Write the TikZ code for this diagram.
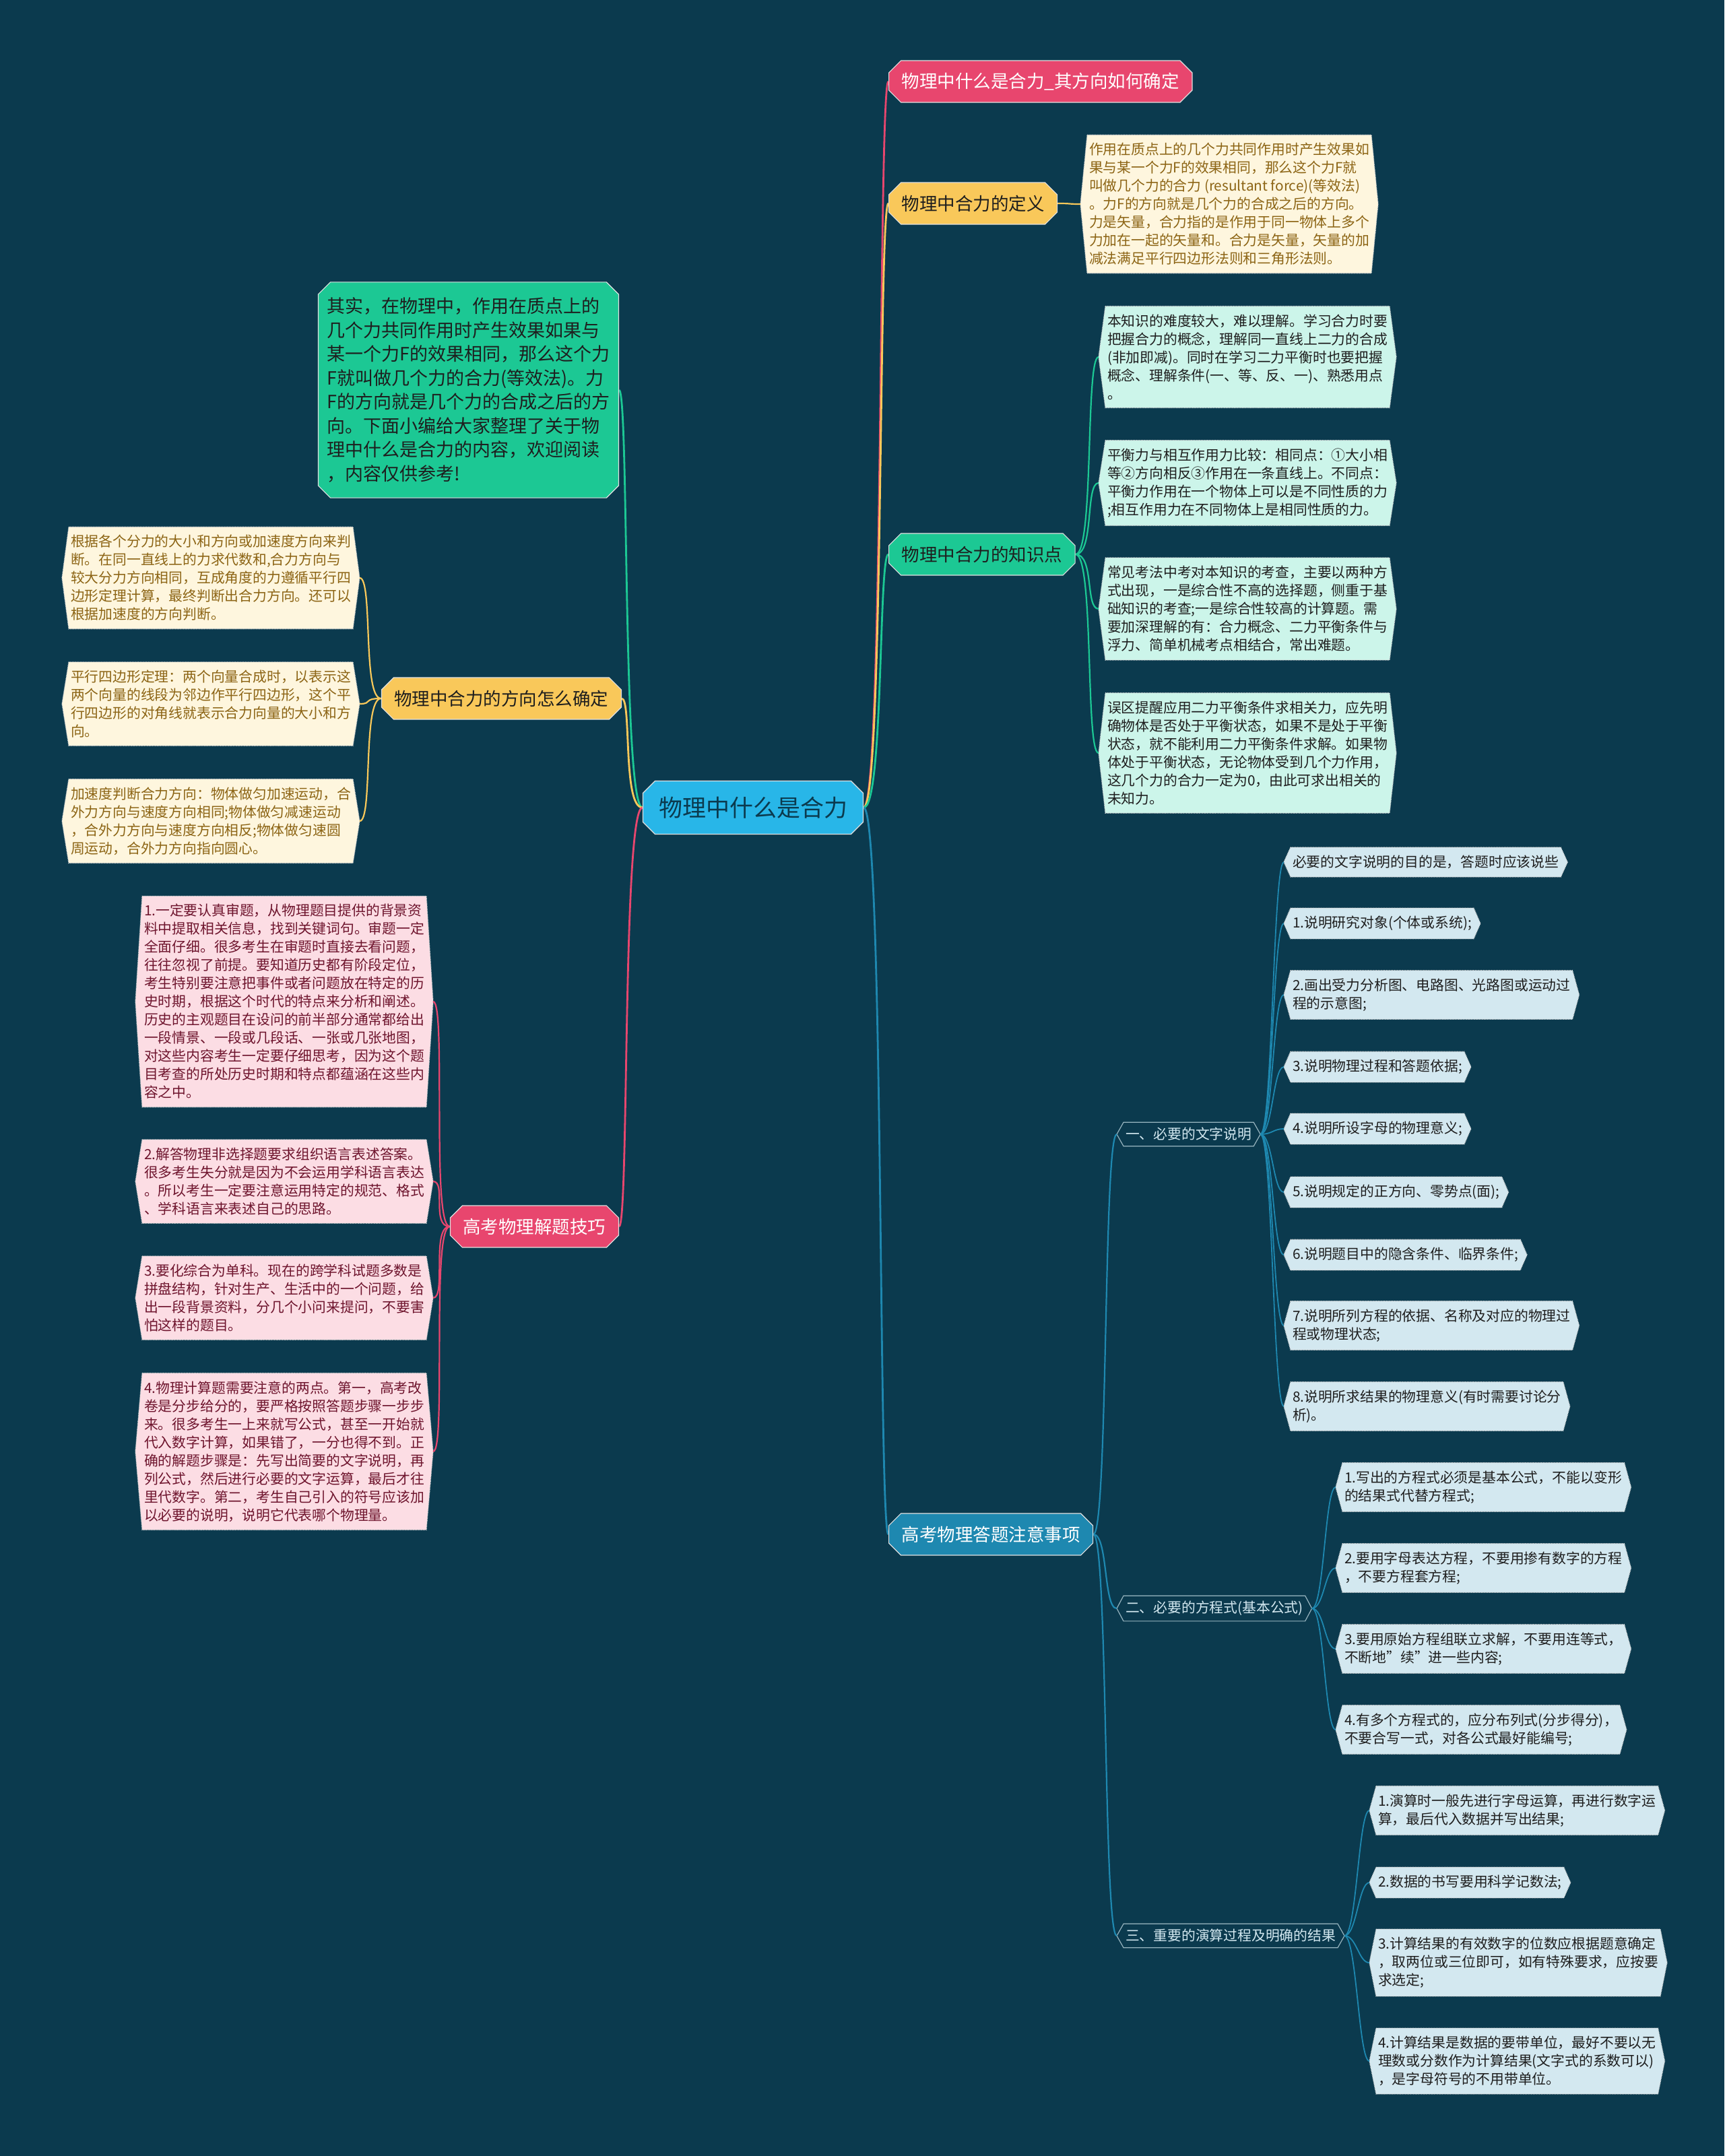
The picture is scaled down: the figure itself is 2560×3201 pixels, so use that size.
\documentclass[tikz,border=0pt]{standalone}
\usepackage{fontspec}
\setmainfont{Noto Sans CJK SC}
\usetikzlibrary{shapes.misc,calc}
\pgfdeclarelayer{bg}
\pgfsetlayers{bg,main}
\definecolor{bgc}{RGB}{11,58,78}
\definecolor{cred}{RGB}{232,70,110}
\definecolor{cyel}{RGB}{249,200,90}
\definecolor{cgrn}{RGB}{28,200,148}
\definecolor{cblu}{RGB}{30,136,176}
\definecolor{ccyan}{RGB}{40,182,232}
\definecolor{lcream}{RGB}{254,246,222}
\definecolor{lmint}{RGB}{204,245,234}
\definecolor{lpink}{RGB}{252,221,228}
\definecolor{lblue}{RGB}{211,232,240}
\definecolor{tbrown}{RGB}{140,100,20}
\definecolor{tpink}{RGB}{110,20,45}
\definecolor{tdark}{RGB}{30,30,30}
\definecolor{dotc}{RGB}{215,215,215}
\tikzset{
  lvone/.style={chamfered rectangle, chamfered rectangle xsep=9pt, chamfered rectangle ysep=9pt,
    draw=white!88!black, line width=1.2pt, inner xsep=10pt, inner ysep=6pt, minimum height=62pt,
    font=\fontsize{26.5}{32}\selectfont},
  leafnode/.style={rectangle, inner xsep=3pt, inner ysep=12pt, outer sep=0pt, align=left,
    font=\fontsize{20.8}{27}\selectfont},
  hex/.style={draw=dotc, line width=1.2pt, dash pattern=on 1.2pt off 1.2pt},
  hexY/.style={hex, fill=lcream}, txtY/.style={text=tbrown},
  hexG/.style={hex, fill=lmint}, txtG/.style={text=tdark},
  hexP/.style={hex, fill=lpink}, txtP/.style={text=tpink},
  hexB/.style={hex, fill=lblue}, txtB/.style={text=tdark},
  hexS/.style={fill=bgc, draw=lblue!70!bgc, line width=1.2pt}, txtS/.style={text=lblue, inner ysep=8pt},
  lnR/.style={draw=cred, line width=2.8pt},
  lnY/.style={draw=cyel, line width=2.8pt},
  lnG/.style={draw=cgrn, line width=2.8pt},
  lnB/.style={draw=cblu, line width=2.8pt},
  thin2/.style={line width=2.2pt},
}
\newcommand\mmleaf[4]{%
  \node[leafnode,txt#3,#2] (#1) {#4};
  \begin{pgfonlayer}{bg}
    \path[hex#3] (#1.north west) -- (#1.north east) -- ($(#1.east)+(10pt,0)$) -- (#1.south east)
      -- (#1.south west) -- ($(#1.west)+(-10pt,0)$) -- cycle;
  \end{pgfonlayer}
  \coordinate (#1-l) at ($(#1.west)+(-10pt,0)$);
  \coordinate (#1-r) at ($(#1.east)+(10pt,0)$);
}
\begin{document}
\begin{tikzpicture}[x=1pt,y=-1pt]
\begin{pgfonlayer}{bg}
\fill[bgc] (0,0) rectangle (2560,3201);
\end{pgfonlayer}
\useasboundingbox (0,0) rectangle (2560,3201);

% central
\node[lvone, fill=ccyan, text=bgc, minimum width=327pt, minimum height=79pt,
  font=\fontsize{35}{40}\selectfont] (c) at (1118,1199) {物理中什么是合力};

% level one
\node[lvone, fill=cred, text=white, anchor=west] (n1) at (1319,121) {物理中什么是合力\_其方向如何确定};
\node[lvone, fill=cyel, text=tdark, anchor=west] (n2) at (1319,302) {物理中合力的定义};
\node[lvone, fill=cgrn, text=tdark, anchor=west] (n3) at (1319,823) {物理中合力的知识点};
\node[lvone, fill=cblu, text=white, anchor=west] (n4) at (1319,2278) {高考物理答题注意事项};
\node[lvone, fill=cyel, text=tdark, anchor=east] (n6) at (923,1037) {物理中合力的方向怎么确定};
\node[lvone, fill=cred, text=white, anchor=east] (n7) at (919,1821) {高考物理解题技巧};
\node[lvone, fill=cgrn, text=tdark, anchor=east, align=left, inner xsep=4pt, inner ysep=14pt,
  font=\fontsize{27}{35.5}\selectfont] (n5) at (919,579)
  {其实，在物理中，作用在质点上的\\几个力共同作用时产生效果如果与\\某一个力F的效果相同，那么这个力\\F就叫做几个力的合力(等效法)。力\\F的方向就是几个力的合成之后的方\\向。下面小编给大家整理了关于物\\理中什么是合力的内容，欢迎阅读\\，内容仅供参考!};

% definition
\mmleaf{def}{anchor=west,at={(1614,303)}}{Y}{作用在质点上的几个力共同作用时产生效果如\\果与某一个力F的效果相同，那么这个力F就\\叫做几个力的合力~(resultant~force)(等效法)\\。力F的方向就是几个力的合成之后的方向。\\力是矢量，合力指的是作用于同一物体上多个\\力加在一起的矢量和。合力是矢量，矢量的加\\减法满足平行四边形法则和三角形法则。}

% knowledge points
\mmleaf{k1}{anchor=west,at={(1641,530)}}{G}{本知识的难度较大，难以理解。学习合力时要\\把握合力的概念，理解同一直线上二力的合成\\(非加即减)。同时在学习二力平衡时也要把握\\概念、理解条件(一、等、反、一)、熟悉用点\\。}
\mmleaf{k2}{anchor=west,at={(1641,717)}}{G}{平衡力与相互作用力比较：相同点：①大小相\\等②方向相反③作用在一条直线上。不同点：\\平衡力作用在一个物体上可以是不同性质的力\\;相互作用力在不同物体上是相同性质的力。}
\mmleaf{k3}{anchor=west,at={(1641,904)}}{G}{常见考法中考对本知识的考查，主要以两种方\\式出现，一是综合性不高的选择题，侧重于基\\础知识的考查;一是综合性较高的计算题。需\\要加深理解的有：合力概念、二力平衡条件与\\浮力、简单机械考点相结合，常出难题。}
\mmleaf{k4}{anchor=west,at={(1641,1118)}}{G}{误区提醒应用二力平衡条件求相关力，应先明\\确物体是否处于平衡状态，如果不是处于平衡\\状态，就不能利用二力平衡条件求解。如果物\\体处于平衡状态，无论物体受到几个力作用，\\这几个力的合力一定为0，由此可求出相关的\\未知力。}

% direction leaves
\mmleaf{d1}{anchor=west,at={(102,858)}}{Y}{根据各个分力的大小和方向或加速度方向来判\\断。在同一直线上的力求代数和,合力方向与\\较大分力方向相同，互成角度的力遵循平行四\\边形定理计算，最终判断出合力方向。还可以\\根据加速度的方向判断。}
\mmleaf{d2}{anchor=west,at={(102,1045)}}{Y}{平行四边形定理：两个向量合成时，以表示这\\两个向量的线段为邻边作平行四边形，这个平\\行四边形的对角线就表示合力向量的大小和方\\向。}
\mmleaf{d3}{anchor=west,at={(102,1219)}}{Y}{加速度判断合力方向：物体做匀加速运动，合\\外力方向与速度方向相同;物体做匀减速运动\\，合外力方向与速度方向相反;物体做匀速圆\\周运动，合外力方向指向圆心。}

% skills leaves
\mmleaf{e1}{anchor=west,at={(211,1487)}}{P}{1.一定要认真审题，从物理题目提供的背景资\\料中提取相关信息，找到关键词句。审题一定\\全面仔细。很多考生在审题时直接去看问题，\\往往忽视了前提。要知道历史都有阶段定位，\\考生特别要注意把事件或者问题放在特定的历\\史时期，根据这个时代的特点来分析和阐述。\\历史的主观题目在设问的前半部分通常都给出\\一段情景、一段或几段话、一张或几张地图，\\对这些内容考生一定要仔细思考，因为这个题\\目考查的所处历史时期和特点都蕴涵在这些内\\容之中。}
\mmleaf{e2}{anchor=west,at={(211,1754)}}{P}{2.解答物理非选择题要求组织语言表述答案。\\很多考生失分就是因为不会运用学科语言表达\\。所以考生一定要注意运用特定的规范、格式\\、学科语言来表述自己的思路。}
\mmleaf{e3}{anchor=west,at={(211,1927)}}{P}{3.要化综合为单科。现在的跨学科试题多数是\\拼盘结构，针对生产、生活中的一个问题，给\\出一段背景资料，分几个小问来提问，不要害\\怕这样的题目。}
\mmleaf{e4}{anchor=west,at={(211,2155)}}{P}{4.物理计算题需要注意的两点。第一，高考改\\卷是分步给分的，要严格按照答题步骤一步步\\来。很多考生一上来就写公式，甚至一开始就\\代入数字计算，如果错了，一分也得不到。正\\确的解题步骤是：先写出简要的文字说明，再\\列公式，然后进行必要的文字运算，最后才往\\里代数字。第二，考生自己引入的符号应该加\\以必要的说明，说明它代表哪个物理量。}

% sub headings
\mmleaf{s1}{anchor=west,at={(1668,1684)}}{S}{一、必要的文字说明}
\mmleaf{s2}{anchor=west,at={(1668,2388)}}{S}{二、必要的方程式(基本公式)}
\mmleaf{s3}{anchor=west,at={(1668,2874)}}{S}{三、重要的演算过程及明确的结果}

% a leaves
\mmleaf{a0}{anchor=west,at={(1916,1280)}}{B}{必要的文字说明的目的是，答题时应该说些}
\mmleaf{a1}{anchor=west,at={(1916,1371)}}{B}{1.说明研究对象(个体或系统);}
\mmleaf{a2}{anchor=west,at={(1916,1477)}}{B}{2.画出受力分析图、电路图、光路图或运动过\\程的示意图;}
\mmleaf{a3}{anchor=west,at={(1916,1584)}}{B}{3.说明物理过程和答题依据;}
\mmleaf{a4}{anchor=west,at={(1916,1676)}}{B}{4.说明所设字母的物理意义;}
\mmleaf{a5}{anchor=west,at={(1916,1770)}}{B}{5.说明规定的正方向、零势点(面);}
\mmleaf{a6}{anchor=west,at={(1916,1863)}}{B}{6.说明题目中的隐含条件、临界条件;}
\mmleaf{a7}{anchor=west,at={(1916,1968)}}{B}{7.说明所列方程的依据、名称及对应的物理过\\程或物理状态;}
\mmleaf{a8}{anchor=west,at={(1916,2088)}}{B}{8.说明所求结果的物理意义(有时需要讨论分\\析)。}

% b leaves
\mmleaf{b1}{anchor=west,at={(1993,2208)}}{B}{1.写出的方程式必须是基本公式，不能以变形\\的结果式代替方程式;}
\mmleaf{b2}{anchor=west,at={(1993,2328)}}{B}{2.要用字母表达方程，不要用掺有数字的方程\\，不要方程套方程;}
\mmleaf{b3}{anchor=west,at={(1993,2448)}}{B}{3.要用原始方程组联立求解，不要用连等式，\\不断地\symbol{"22}续\symbol{"22}进一些内容;}
\mmleaf{b4}{anchor=west,at={(1993,2568)}}{B}{4.有多个方程式的，应分布列式(分步得分)，\\不要合写一式，对各公式最好能编号;}

% c leaves
\mmleaf{c1}{anchor=west,at={(2043,2688)}}{B}{1.演算时一般先进行字母运算，再进行数字运\\算，最后代入数据并写出结果;}
\mmleaf{c2}{anchor=west,at={(2043,2795)}}{B}{2.数据的书写要用科学记数法;}
\mmleaf{c3}{anchor=west,at={(2043,2914)}}{B}{3.计算结果的有效数字的位数应根据题意确定\\，取两位或三位即可，如有特殊要求，应按要\\求选定;}
\mmleaf{c4}{anchor=west,at={(2043,3060)}}{B}{4.计算结果是数据的要带单位，最好不要以无\\理数或分数作为计算结果(文字式的系数可以)\\，是字母符号的不用带单位。}

% connectors
\begin{pgfonlayer}{bg}
\draw[lnR] (c.east) .. controls +(30,0) and +(-15,0) .. (n1.west);
\draw[lnY] (c.east) .. controls +(30,0) and +(-15,0) .. (n2.west);
\draw[lnG] (c.east) .. controls +(30,0) and +(-15,0) .. (n3.west);
\draw[lnB] (c.east) .. controls +(30,0) and +(-15,0) .. (n4.west);
\draw[lnG] (c.west) .. controls +(-30,0) and +(15,0) .. (n5.east);
\draw[lnY] (c.west) .. controls +(-30,0) and +(15,0) .. (n6.east);
\draw[lnR] (c.west) .. controls +(-30,0) and +(15,0) .. (n7.east);

\draw[lnY,thin2] (n2.east) .. controls +(22,0) and +(-20,0) .. (def-l);
\foreach \k in {k1,k2,k3,k4}
  \draw[lnG,thin2] (n3.east) .. controls +(28,0) and +(-20,0) .. (\k-l);
\foreach \k in {d1,d2,d3}
  \draw[lnY,thin2] (n6.west) .. controls +(-28,0) and +(20,0) .. (\k-r);
\foreach \k in {e1,e2,e3,e4}
  \draw[lnR,thin2] (n7.west) .. controls +(-28,0) and +(20,0) .. (\k-r);
\foreach \k in {s1,s2,s3}
  \draw[lnB,thin2] (n4.east) .. controls +(22,0) and +(-20,0) .. (\k-l);
\foreach \k in {a0,a1,a2,a3,a4,a5,a6,a7,a8}
  \draw[lnB,line width=1.8pt] (s1-r) .. controls +(18,0) and +(-16,0) .. (\k-l);
\foreach \k in {b1,b2,b3,b4}
  \draw[lnB,line width=1.8pt] (s2-r) .. controls +(18,0) and +(-16,0) .. (\k-l);
\foreach \k in {c1,c2,c3,c4}
  \draw[lnB,line width=1.8pt] (s3-r) .. controls +(18,0) and +(-16,0) .. (\k-l);
\end{pgfonlayer}
\end{tikzpicture}
\end{document}
